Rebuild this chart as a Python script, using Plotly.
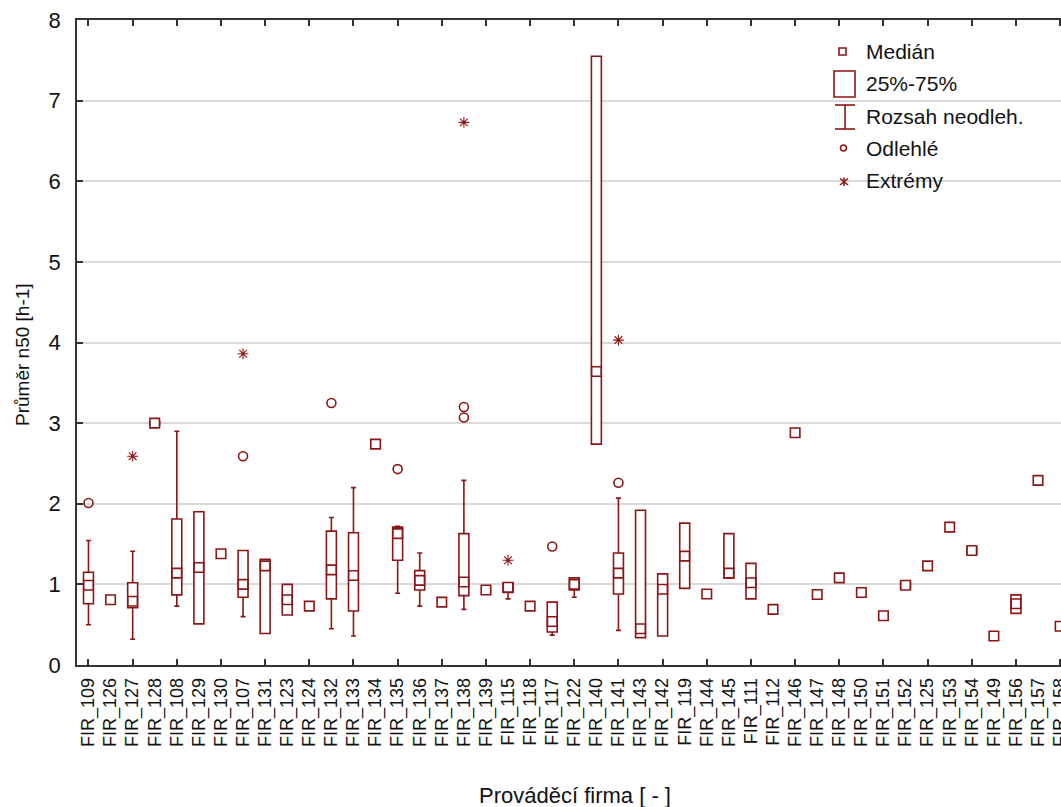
import plotly.graph_objects as go

# ---- data -----------------------------------------------------------------
firms = [
    "FIR_109", "FIR_126", "FIR_127", "FIR_128", "FIR_108", "FIR_129", "FIR_130",
    "FIR_107", "FIR_131", "FIR_123", "FIR_124", "FIR_132", "FIR_133", "FIR_134",
    "FIR_135", "FIR_136", "FIR_137", "FIR_138", "FIR_139", "FIR_115", "FIR_118",
    "FIR_117", "FIR_122", "FIR_140", "FIR_141", "FIR_143", "FIR_142", "FIR_119",
    "FIR_144", "FIR_145", "FIR_111", "FIR_112", "FIR_146", "FIR_147", "FIR_148",
    "FIR_150", "FIR_151", "FIR_152", "FIR_125", "FIR_153", "FIR_154", "FIR_149",
    "FIR_156", "FIR_157", "FIR_158",
]

median = [
    0.99, 0.81, 0.79, 3.00, 1.14, 1.21, 1.38,
    1.00, 1.23, 0.81, 0.73, 1.18, 1.11, 2.74,
    1.63, 1.05, 0.78, 1.03, 0.93, 0.965, 0.73,
    0.54, 1.00, 3.64, 1.14, 0.45, 0.94, 1.35,
    0.88, 1.14, 1.02, 0.69, 2.88, 0.875, 1.08,
    0.90, 0.61, 0.99, 1.23, 1.71, 1.42, 0.36,
    0.76, 2.29, 0.48,
]

# quartiles and non-outlier range (None = only one value for the firm)
q1 = [
    0.76, None, 0.71, 2.98, 0.87, 0.51, None,
    0.84, 0.39, 0.62, None, 0.82, 0.67, None,
    1.30, 0.93, None, 0.86, None, 0.90, None,
    0.41, 0.93, 2.74, 0.88, 0.34, 0.36, 0.95,
    None, 1.08, 0.82, None, None, None, None,
    None, None, 0.95, None, None, 1.38, None,
    0.64, None, None,
]
q3 = [
    1.15, None, 1.02, 3.02, 1.81, 1.90, None,
    1.42, 1.31, 1.00, None, 1.66, 1.64, None,
    1.71, 1.17, None, 1.63, None, 1.02, None,
    0.78, 1.08, 7.55, 1.39, 1.92, 1.13, 1.76,
    None, 1.63, 1.26, None, None, None, None,
    None, None, 1.03, None, None, 1.46, None,
    0.87, None, None,
]
range_low = [
    0.50, None, 0.32, 2.98, 0.73, 0.51, None,
    0.60, 0.39, 0.62, None, 0.45, 0.36, None,
    0.89, 0.73, None, 0.69, None, 0.82, None,
    0.37, 0.84, 2.74, 0.43, 0.34, 0.36, 0.95,
    None, 1.08, 0.82, None, None, None, None,
    None, None, 0.95, None, None, 1.38, None,
    0.64, None, None,
]
range_high = [
    1.545, None, 1.41, 3.02, 2.90, 1.90, None,
    1.42, 1.31, 1.00, None, 1.83, 2.20, None,
    1.72, 1.39, None, 2.29, None, 1.02, None,
    0.78, 1.08, 7.55, 2.07, 1.92, 1.13, 1.76,
    None, 1.63, 1.26, None, None, None, None,
    None, None, 1.03, None, None, 1.46, None,
    0.87, None, None,
]

outlier_firms = ["FIR_109", "FIR_107", "FIR_132", "FIR_135", "FIR_138", "FIR_138", "FIR_117", "FIR_141"]
outlier_values = [2.01, 2.59, 3.25, 2.43, 3.07, 3.20, 1.47, 2.26]

extreme_firms = ["FIR_127", "FIR_107", "FIR_138", "FIR_115", "FIR_141"]
extreme_values = [2.59, 3.86, 6.73, 1.30, 4.03]

y_ticks = [0, 1, 2, 3, 4, 5, 6, 7, 8]

# ---- styling ----------------------------------------------------------------
RED = "#8c1515"
AXIS = "#333333"
TEXT = "#111111"
FONT = "Liberation Sans, Arial, sans-serif"

pos = {f: i for i, f in enumerate(firms)}
has_box = [i for i in range(len(firms)) if q1[i] is not None]

fig = go.Figure()

fig.add_trace(go.Box(
    x=has_box,
    q1=[q1[i] for i in has_box],
    median=[median[i] for i in has_box],
    q3=[q3[i] for i in has_box],
    lowerfence=[range_low[i] for i in has_box],
    upperfence=[range_high[i] for i in has_box],
    width=0.45,
    whiskerwidth=0.5,
    line=dict(color=RED, width=1.6),
    fillcolor="white",
    boxpoints=False,
    showlegend=False,
    name="25%-75%",
))

fig.add_trace(go.Scatter(
    x=list(range(len(firms))), y=median, mode="markers",
    marker=dict(symbol="square", size=9.5, color="white",
                line=dict(color=RED, width=1.6)),
    showlegend=False, name="Medián",
))

fig.add_trace(go.Scatter(
    x=[pos[f] for f in outlier_firms], y=outlier_values, mode="markers",
    marker=dict(symbol="circle-open", size=9, color=RED,
                line=dict(color=RED, width=1.6)),
    showlegend=False, name="Odlehlé",
))

fig.add_trace(go.Scatter(
    x=[pos[f] for f in extreme_firms], y=extreme_values, mode="markers",
    marker=dict(symbol="asterisk-open", size=9, color=RED,
                line=dict(color=RED, width=1.1)),
    showlegend=False, name="Extrémy",
))

# ---- layout -------------------------------------------------------------------
W, H = 1061, 807
L, R, T, B = 77, 0, 20, 142


def px_x(p):
    return (p - L) / (W - L - R)


def px_y(p):
    return (H - B - p) / (H - B - T)


fig.update_layout(
    width=W, height=H,
    margin=dict(l=L, r=R, t=T, b=B),
    paper_bgcolor="white", plot_bgcolor="white",
    font=dict(family=FONT, color=TEXT),
    showlegend=False,
    xaxis=dict(
        range=[-0.52, 44.04],
        tickmode="array", tickvals=list(range(len(firms))), ticktext=firms,
        tickangle=-90, ticks="", tickfont=dict(size=18, color=TEXT),
        ticklabelstandoff=4, ticklabeloverflow="allow",
        showline=True, linecolor=AXIS, linewidth=1.5, mirror="ticks",
        showgrid=False, zeroline=False, automargin=False,
        minor=dict(tickmode="array", tickvals=list(range(0, len(firms), 2)),
                   ticks="inside", ticklen=6, tickwidth=1.5, tickcolor=AXIS,
                   showgrid=False),
    ),
    yaxis=dict(
        range=[0, 8], tickmode="array", tickvals=y_ticks,
        ticks="inside", ticklen=6, tickwidth=1.5, tickcolor=AXIS,
        tickfont=dict(size=22, color=TEXT), ticklabelstandoff=10,
        showline=True, linecolor=AXIS, linewidth=1.5,
        showgrid=True, gridcolor="#d9d9d9", gridwidth=1.5,
        zeroline=False, automargin=False,
    ),
)

# axis titles
fig.add_annotation(text="Prováděcí firma [ - ]", xref="paper", yref="paper",
                   x=px_x(575), y=px_y(795), showarrow=False,
                   font=dict(size=22, color=TEXT), xanchor="center", yanchor="middle")
fig.add_annotation(text="Průměr n50 [h-1]", xref="paper", yref="paper",
                   x=px_x(22), y=px_y(355), showarrow=False, textangle=-90,
                   font=dict(size=19, color=TEXT), xanchor="center", yanchor="middle")

# legend key
legend_rows = [("Medián", 51), ("25%-75%", 83), ("Rozsah neodleh.", 116),
               ("Odlehlé", 148), ("Extrémy", 180)]
for label, yy in legend_rows:
    fig.add_annotation(text=label, xref="paper", yref="paper",
                       x=px_x(864), y=px_y(yy), showarrow=False,
                       font=dict(size=21, color=TEXT), xanchor="left", yanchor="middle")

lk = dict(color=RED, width=1.6)
shapes = [
    dict(type="rect", x0=px_x(839), x1=px_x(846), y0=px_y(48), y1=px_y(55), line=lk),
    dict(type="rect", x0=px_x(834), x1=px_x(855), y0=px_y(71), y1=px_y(97), line=lk),
    dict(type="line", x0=px_x(845), x1=px_x(845), y0=px_y(105), y1=px_y(129), line=lk),
    dict(type="line", x0=px_x(835), x1=px_x(855), y0=px_y(105), y1=px_y(105), line=lk),
    dict(type="line", x0=px_x(835), x1=px_x(855), y0=px_y(129), y1=px_y(129), line=lk),
    dict(type="circle", x0=px_x(840.5), x1=px_x(846.5), y0=px_y(145), y1=px_y(151), line=lk),
    dict(type="line", x0=px_x(844), x1=px_x(844), y0=px_y(177.5), y1=px_y(186), line=lk),
    dict(type="line", x0=px_x(840), x1=px_x(848), y0=px_y(178.5), y1=px_y(185), line=lk),
    dict(type="line", x0=px_x(840), x1=px_x(848), y0=px_y(185), y1=px_y(178.5), line=lk),
]
for s in shapes:
    s.update(xref="paper", yref="paper")
fig.update_layout(shapes=shapes)

fig.write_html("out.html")
